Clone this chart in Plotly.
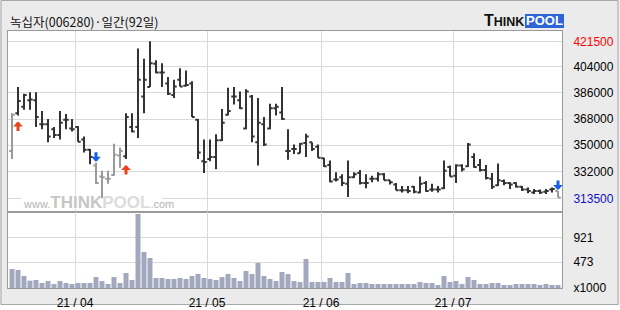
import plotly.graph_objects as go
import pandas as pd

title_text = "녹십자(006280)·일간(92일)"

# trading days (Korea: 2021-05-05 and 2021-05-19 were holidays)
dates = [d for d in pd.bdate_range("2021-03-17", "2021-07-26")
         if d.strftime("%m-%d") not in ("05-05", "05-19")]

opens = [346000, 372000, 376500, 381000, 381000, 364500, 364500, 361000, 357000, 367500,
         361500, 362500, 354000, 347000, 336000, 328500, 327000, 329500, 343000, 342500,
         362500, 362500, 383500, 390000, 406000, 400000, 392500, 384500, 395000, 391000,
         392500, 367500, 339000, 340500, 342000, 353500, 371000, 383500, 381000, 361500,
         383500, 352000, 364500, 361500, 375500, 372500, 346000, 347500, 344500, 351500,
         352000, 349000, 341000, 336500, 326500, 328000, 323500, 328000, 331000, 324000,
         327000, 327000, 330000, 326000, 323000, 319000, 319000, 321500, 317500, 324000,
         319500, 319500, 320500, 335000, 329000, 336000, 335500, 342000, 336500, 333000,
         327000, 322500, 325500, 324000, 324000, 321500, 319500, 317500, 318500, 318000,
         319500, 318500]
highs = [372000, 390000, 385500, 386500, 386500, 373500, 368000, 362500, 373500, 371500,
         368000, 363000, 356000, 347500, 338000, 332500, 332500, 351000, 348500, 372000,
         372000, 416500, 409500, 421500, 408500, 406500, 397000, 395000, 403000, 401500,
         394000, 368000, 354000, 354000, 357500, 375000, 389500, 390000, 387000, 388500,
         384500, 382500, 369500, 378500, 378500, 390000, 361000, 350500, 351500, 358000,
         352000, 350500, 341500, 339500, 331500, 330000, 339500, 331500, 333000, 330000,
         329000, 331500, 331000, 326000, 324000, 322000, 322000, 322000, 328500, 325500,
         323500, 322000, 339500, 336000, 337000, 337000, 351500, 344500, 340500, 336500,
         331000, 337500, 326500, 324500, 324500, 322000, 321000, 320000, 319500, 320000,
         321000, 318500]
lows = [340500, 370500, 374500, 374500, 362500, 361000, 352000, 355000, 354000, 361000,
        359500, 352500, 345000, 337000, 323500, 313500, 323500, 329000, 334500, 340500,
        359000, 355000, 372000, 390000, 399500, 390000, 384500, 382500, 390500, 390500,
        369500, 340500, 331000, 339000, 333500, 353000, 370500, 378000, 375000, 361000,
        352000, 336000, 349500, 361000, 370500, 367500, 340000, 344000, 344500, 342000,
        346000, 341500, 335000, 324500, 325000, 322000, 314500, 327500, 323000, 320500,
        324500, 325000, 326000, 323000, 319000, 317500, 317000, 317000, 317000, 318000,
        318000, 317500, 320000, 328500, 324000, 332000, 335000, 334500, 332000, 326500,
        320000, 322000, 322500, 320000, 321000, 318500, 317000, 316500, 316500, 316500,
        317500, 314000]
closes = [371000, 380500, 384500, 381500, 369500, 364500, 356000, 357000, 365500, 367500,
          361000, 352500, 347000, 342000, 324000, 328000, 327000, 343500, 346000, 369500,
          359500, 395000, 395000, 406500, 400000, 400000, 385500, 390500, 390500, 391500,
          369500, 345000, 338500, 342000, 353500, 365500, 373500, 383500, 375500, 387000,
          356000, 365500, 350500, 375500, 376500, 368000, 346000, 347500, 351000, 356000,
          347500, 341500, 335500, 325000, 326500, 324000, 328000, 330000, 324000, 324000,
          327000, 330000, 326000, 324500, 319000, 319000, 318500, 318000, 323500, 318500,
          319500, 319500, 332500, 328500, 336000, 333500, 350500, 335000, 333000, 327500,
          321500, 326000, 324000, 323000, 321500, 319500, 318500, 318500, 317500, 318500,
          320000, 314000]
volume = [346, 328, 219, 133, 146, 91, 127, 73, 127, 91,
          73, 91, 91, 91, 200, 127, 73, 200, 91, 273,
          146, 1348, 656, 546, 182, 182, 164, 164, 182, 164,
          219, 255, 182, 164, 146, 200, 255, 182, 127, 310,
          255, 455, 219, 164, 127, 291, 255, 127, 109, 528,
          109, 109, 109, 182, 109, 109, 273, 73, 91, 91,
          73, 73, 73, 73, 73, 73, 73, 73, 109, 91,
          91, 55, 219, 109, 127, 73, 200, 146, 73, 73,
          91, 91, 55, 55, 73, 73, 73, 73, 55, 73,
          55, 55]

buy_signals = [1, 19]
sell_signals = [14, 91]
gray_bars = [0, 14, 15, 16, 17, 18, 91]

price_ticks = [421500, 404000, 386000, 368000, 350000, 332000, 313500]
vol_ticks = [0, 473, 921]
vol_ticktext = ["x1000", "473", "921"]

n = len(dates)
idx = list(range(n))
month_pos = [i - 0.5 for i in range(1, n) if dates[i].month != dates[i - 1].month]
month_txt = [dates[i].strftime("%y / %m") for i in range(1, n) if dates[i].month != dates[i - 1].month]

# pixel layout helpers
L, R, T, B = 8, 562, 31, 288
W, H = R - L, B - T
def px(x):
    return (x - L) / W
def py(y):
    return (B - y) / H
split = py(212)

xr = [-0.6667, 91.6667]
yr = [304100, 428600]
vr = [0, 1384]

dark = [i for i in idx if i not in gray_bars]
gray = [i for i in idx if i in gray_bars]

fig = go.Figure()
for sel, col in ((dark, "#333333"), (gray, "#9a9a9a")):
    fig.add_trace(go.Ohlc(
        x=sel,
        open=[opens[i] for i in sel], high=[highs[i] for i in sel],
        low=[lows[i] for i in sel], close=[closes[i] for i in sel],
        increasing=dict(line=dict(color=col, width=2)),
        decreasing=dict(line=dict(color=col, width=2)),
        tickwidth=0.45, xaxis="x", yaxis="y", hoverinfo="skip", showlegend=False))

fig.add_trace(go.Bar(x=idx, y=volume, marker=dict(color="#a2a9bf", line=dict(width=0)),
                     xaxis="x2", yaxis="y2", hoverinfo="skip", showlegend=False))

grid = "#dadada"
border = "#9a9a9a"
tfont = dict(family="Liberation Sans", size=12, color="#000000")

price_text = []
for v in price_ticks:
    if v == max(highs):
        price_text.append('<span style="color:#ff0000">%d</span>' % v)
    elif v == min(lows):
        price_text.append('<span style="color:#1010c8">%d</span>' % v)
    else:
        price_text.append(str(v))

fig.update_layout(
    width=620, height=310,
    margin=dict(l=L, r=620 - R, t=T, b=310 - B, pad=0, autoexpand=False),
    paper_bgcolor="#ebebeb", plot_bgcolor="#ffffff",
    showlegend=False, bargap=1 / 6,
    xaxis=dict(domain=[0, 1], anchor="y", range=xr, tickvals=month_pos, showticklabels=False,
               showgrid=True, gridcolor=grid, showline=True, mirror=True, linecolor=border,
               zeroline=False, ticks="", automargin=False, rangeslider=dict(visible=False)),
    yaxis=dict(domain=[split, 1], anchor="x", range=yr, side="right", tickvals=price_ticks,
               ticktext=price_text, showgrid=True, gridcolor=grid, showline=True, mirror=True,
               linecolor=border, zeroline=False, ticks="", ticklabelstandoff=8, tickfont=tfont,
               automargin=False),
    xaxis2=dict(domain=[0, 1], anchor="y2", range=xr, tickvals=month_pos, ticktext=month_txt,
                showgrid=True, gridcolor=grid, showline=True, mirror=True, linecolor=border,
                zeroline=False, ticks="", ticklabelstandoff=4, tickfont=tfont, automargin=False),
    yaxis2=dict(domain=[0, split], anchor="x2", range=vr, side="right", tickvals=vol_ticks,
                ticktext=vol_ticktext, showgrid=True, gridcolor=grid, showline=True, mirror=True,
                linecolor=border, zeroline=False, ticks="", ticklabelstandoff=8, tickfont=tfont,
                automargin=False),
)

shapes = [
    dict(type="rect", xref="paper", yref="paper", x0=px(-2), x1=px(622), y0=py(312), y1=py(305),
         fillcolor="#ffffff", line=dict(width=0), layer="below"),
    dict(type="rect", xref="paper", yref="paper", x0=px(1), x1=px(618), y0=py(304.5), y1=py(0.5),
         fillcolor="rgba(0,0,0,0)", line=dict(color="#a8a8a8", width=1), layer="below"),
    dict(type="rect", xref="paper", yref="paper", x0=px(525), x1=px(564), y0=py(28), y1=py(14),
         fillcolor="#2f64d6", line=dict(width=0), layer="above"),
    # white mask under watermark (between gridlines and bars)
    dict(type="rect", xref="x", yref="y",
         x0=xr[0] + (21 - L) / 6, x1=xr[0] + (162 - L) / 6,
         y0=yr[0] + (212 - 209) / 181 * (yr[1] - yr[0]),
         y1=yr[0] + (212 - 195) / 181 * (yr[1] - yr[0]),
         fillcolor="#ffffff", line=dict(width=0), layer="between"),
]
fig.update_layout(shapes=shapes)

ann = [
    dict(text=title_text, xref="paper", yref="paper", x=px(8), y=py(22), xanchor="left",
         yanchor="middle", showarrow=False,
         font=dict(family="Noto Sans CJK KR", size=12.5, color="#111111")),
    dict(text="<b><span style='font-size:16px'>T</span>HINK</b>", xref="paper", yref="paper",
         x=px(525.5), y=py(21), xanchor="right", yanchor="middle", showarrow=False,
         font=dict(family="Liberation Sans", size=12.5, color="#111111")),
    dict(text="<b>POOL</b>", xref="paper", yref="paper", x=px(544.5), y=py(21),
         xanchor="center", yanchor="middle", showarrow=False,
         font=dict(family="Liberation Sans", size=13, color="#ffffff")),
    dict(text="<span style='font-size:11px;color:#b4b4b4'>www.</span>"
              "<span style='color:#c6c6c6'><b>THINK</b></span>"
              "<span style='color:#dcdcdc'><b>POOL</b></span>"
              "<span style='font-size:11px;color:#b4b4b4'>.com</span>",
         xref="paper", yref="paper", x=px(21), y=py(202.5), xanchor="left", yanchor="middle",
         showarrow=False, font=dict(family="Liberation Sans", size=17, color="#c6c6c6")),
]
for i in buy_signals:
    ann.append(dict(x=i, y=lows[i], xref="x", yref="y", text="", showarrow=True,
                    arrowhead=1, arrowsize=0.55, arrowwidth=3, arrowcolor="#e8431c",
                    ax=0, ay=11, yshift=-6))
for i in sell_signals:
    ann.append(dict(x=i, y=highs[i], xref="x", yref="y", text="", showarrow=True,
                    arrowhead=1, arrowsize=0.55, arrowwidth=3, arrowcolor="#1560e6",
                    ax=0, ay=-11, yshift=1))
fig.update_layout(annotations=ann)

fig.write_html("out.html")
